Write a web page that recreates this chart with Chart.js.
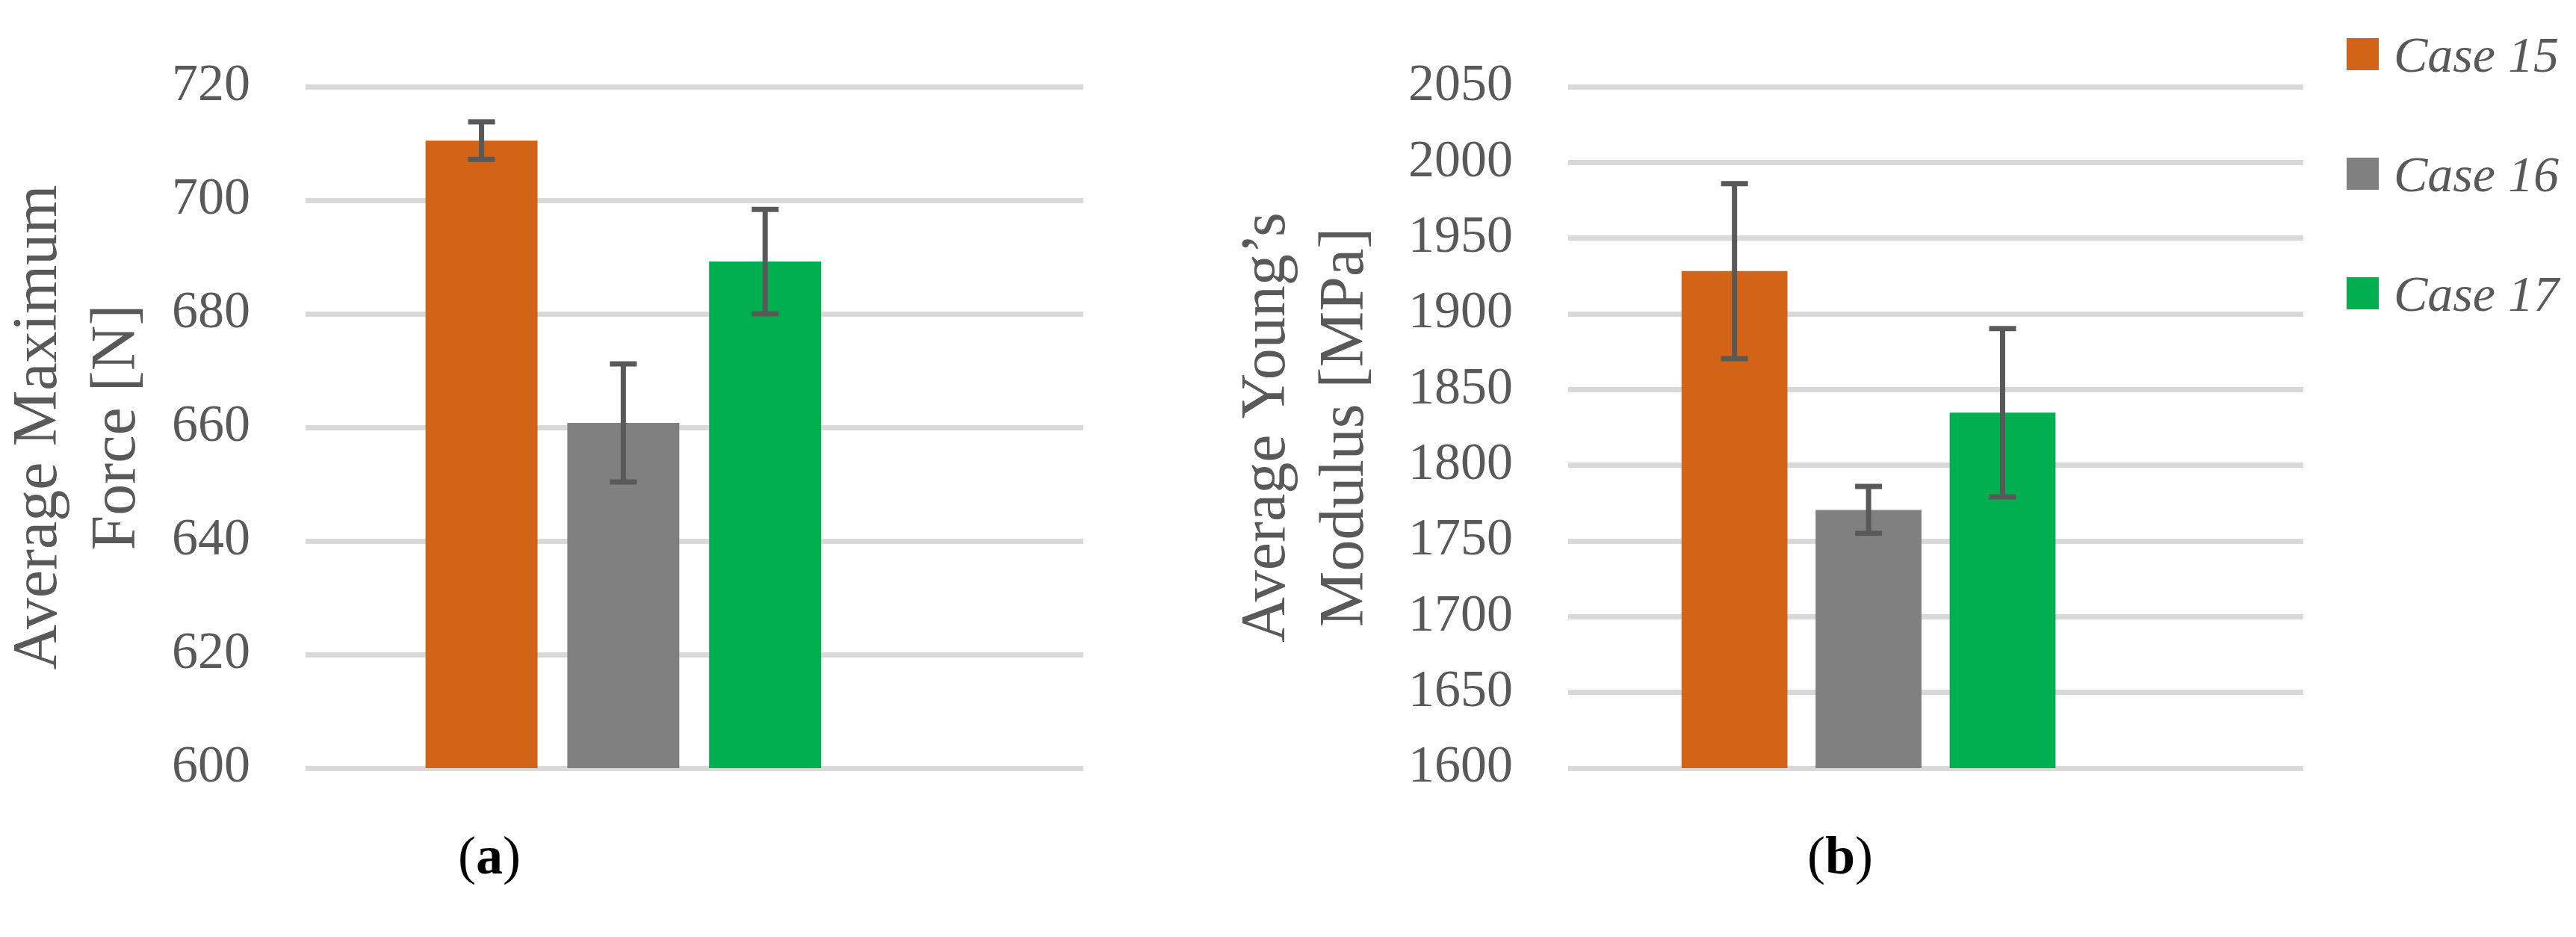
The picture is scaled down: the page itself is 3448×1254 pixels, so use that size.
<!DOCTYPE html>
<html>
<head>
<meta charset="utf-8">
<script src="https://cdn.jsdelivr.net/npm/chart.js@4.4.1/dist/chart.umd.min.js"></script>
<style>
  html, body { margin: 0; padding: 0; background: #fff; }
  #wrap { position: relative; width: 3448px; height: 1254px; overflow: hidden; }
  canvas { position: absolute; top: 0; }
  #chartA { left: 0; }
  #chartB { left: 1644px; }
  .cap { position: absolute; top: 1109px; width: 200px; text-align: center; font: 72px 'Liberation Serif'; line-height: 1; color: #000; }
  #legend { position: absolute; left: 3141px; top: 51px; }
  .item { display: flex; align-items: center; height: 43px; margin-bottom: 117px; font: italic 68px 'Liberation Serif'; line-height: 1; color: #595959; white-space: nowrap; }
  .box { width: 43px; height: 43px; margin-right: 20px; flex: none; }
</style>
</head>
<body>
<div id="wrap">
  <canvas id="chartA" width="1560" height="1254"></canvas>
  <canvas id="chartB" width="1804" height="1254"></canvas>
  <div class="cap" style="left:555px">(<b>a</b>)</div>
  <div class="cap" style="left:2363px">(<b>b</b>)</div>
  <div id="legend"></div>
</div>
<script>
const cases = ['Case 15', 'Case 16', 'Case 17'];
const caseColors = ['#D36316', '#808080', '#00B050'];

// (a) average maximum force
const forceValues = [710.5, 660.8, 689.2];
const forceErrors = [3.3, 10.4, 9.2];
const forceTicks = [600, 620, 640, 660, 680, 700, 720];
const forceTitle = ['Average Maximum', 'Force [N]'];

// (b) average young's modulus
const modulusValues = [1928.2, 1770.5, 1834.7];
const modulusErrors = [57.8, 15.5, 55.6];
const modulusTicks = [1600, 1650, 1700, 1750, 1800, 1850, 1900, 1950, 2000, 2050];
const modulusTitle = ['Average Young\u2019s', 'Modulus [MPa]'];

const errorBars = {
  id: 'errorBars',
  afterDatasetsDraw(chart, args, opts) {
    const ctx = chart.ctx;
    const y = chart.scales.y;
    ctx.save();
    ctx.strokeStyle = opts.color;
    ctx.lineWidth = opts.width;
    chart.data.datasets.forEach((ds, i) => {
      const bar = chart.getDatasetMeta(i).data[0];
      const v = ds.data[0].y;
      const e = ds.errors[0];
      const top = y.getPixelForValue(v + e);
      const bot = y.getPixelForValue(v - e);
      const half = opts.capWidth / 2;
      ctx.beginPath();
      ctx.moveTo(bar.x, top); ctx.lineTo(bar.x, bot);
      ctx.moveTo(bar.x - half, top); ctx.lineTo(bar.x + half, top);
      ctx.moveTo(bar.x - half, bot); ctx.lineTo(bar.x + half, bot);
      ctx.stroke();
    });
    ctx.restore();
  }
};

function makeChart(id, values, errors, ticks, title, axisWidth, padRight) {
  return new Chart(document.getElementById(id), {
    type: 'bar',
    data: {
      datasets: cases.map((name, i) => ({
        label: name,
        data: [{ x: 0, y: values[i] }],
        errors: [errors[i]],
        backgroundColor: caseColors[i],
        borderWidth: 0,
        categoryPercentage: 0.547,
        barPercentage: 0.79
      }))
    },
    plugins: [errorBars],
    options: {
      responsive: false,
      animation: false,
      devicePixelRatio: 1,
      layout: { padding: { left: 0, top: 53, right: padRight, bottom: 226 } },
      plugins: {
        legend: { display: false },
        tooltip: { enabled: false },
        errorBars: { color: '#595959', width: 7, capWidth: 36 }
      },
      scales: {
        x: {
          type: 'linear',
          display: false,
          offset: false,
          min: -0.4086,
          max: 0.5914,
          afterBuildTicks: s => { s.ticks = [{ value: s.min }, { value: s.max }]; }
        },
        y: {
          min: ticks[0],
          max: ticks[ticks.length - 1],
          afterBuildTicks: s => { s.ticks = ticks.map(v => ({ value: v })); },
          afterFit: s => { s.width = axisWidth; },
          grid: { color: '#D9D9D9', lineWidth: 7, drawTicks: false },
          border: { display: false },
          ticks: {
            padding: 74,
            color: '#595959',
            font: { family: 'Liberation Serif', size: 70 },
            callback: v => String(v)
          },
          title: {
            display: true,
            text: title,
            color: '#595959',
            padding: 0,
            font: { family: 'Liberation Serif', size: 84, lineHeight: 1.25 }
          }
        }
      }
    }
  });
}

const chartA = makeChart('chartA', forceValues, forceErrors, forceTicks, forceTitle, 409, 110);
const chartB = makeChart('chartB', modulusValues, modulusErrors, modulusTicks, modulusTitle, 455, 365);

// html legend built from chart B's datasets
const legendEl = document.getElementById('legend');
Chart.defaults.plugins.legend.labels.generateLabels(chartB).forEach(item => {
  const row = document.createElement('div');
  row.className = 'item';
  const box = document.createElement('span');
  box.className = 'box';
  box.style.background = item.fillStyle;
  const txt = document.createElement('span');
  txt.textContent = item.text;
  row.appendChild(box);
  row.appendChild(txt);
  legendEl.appendChild(row);
});
</script>
</body>
</html>
